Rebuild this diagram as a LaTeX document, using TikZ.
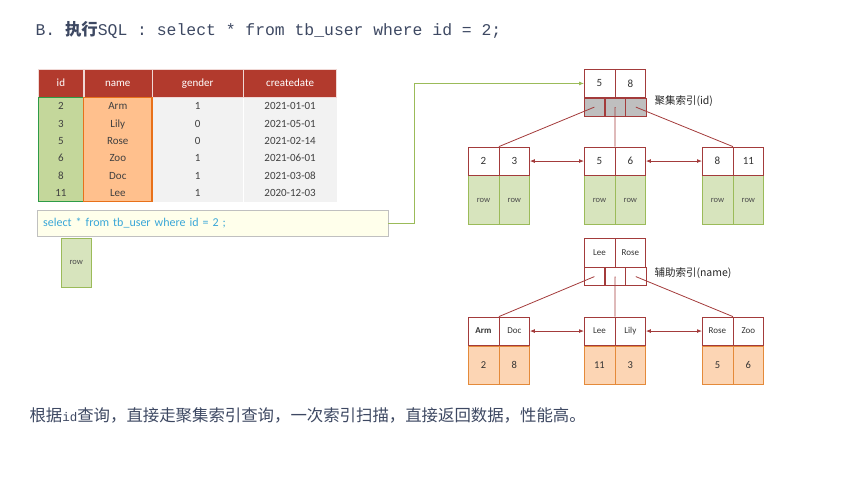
\documentclass[tikz,border=0pt]{standalone}
\usepackage{fontspec}
\setmainfont{Carlito}
\setmonofont{Liberation Mono}
\newfontfamily\cjk{Noto Sans CJK SC}
\usepackage{xcolor}
\usetikzlibrary{arrows.meta}
\usetikzlibrary{matrix}

\definecolor{titleblue}{HTML}{3D4862}
\definecolor{hdrred}{HTML}{B23A2D}
\definecolor{bodygray}{HTML}{F2F2F2}
\definecolor{cellgray}{HTML}{404040}
\definecolor{idfill}{HTML}{C4D79B}
\definecolor{idgreen}{HTML}{2E9B47}
\definecolor{namefill}{HTML}{FFC08D}
\definecolor{nameorange}{HTML}{E8711A}
\definecolor{sqlfill}{HTML}{FFFFEB}
\definecolor{sqlborder}{HTML}{C0C0C0}
\definecolor{sqltext}{HTML}{3AA7D8}
\definecolor{treered}{HTML}{A33B3B}
\definecolor{ptrgray}{HTML}{BFBFBF}
\definecolor{rowfill}{HTML}{D7E4BD}
\definecolor{rowgreen}{HTML}{9BBB59}
\definecolor{datafill}{HTML}{FCD5B4}
\definecolor{dataorange}{HTML}{E48A3A}

\begin{document}
\begin{tikzpicture}[x=1pt,y=-1pt,
		keycell/.style={draw=treered, fill=white, inner sep=0pt, minimum width=30.5pt,
			minimum height=28.5pt, text=black!80, font=\fontsize{11}{12}\selectfont},
		ptrcell/.style={draw=treered, inner sep=0pt, minimum width=20.33pt, minimum height=18pt},
		rowcell/.style={draw=rowgreen, fill=rowfill, inner sep=0pt, minimum width=30.5pt,
			minimum height=49pt, text=black!70, font=\fontsize{8.5}{10}\selectfont},
		datacell/.style={draw=dataorange, fill=datafill, inner sep=0pt, minimum width=30.5pt,
			minimum height=38pt, text=black!80, font=\fontsize{10.5}{12}\selectfont},
		treeline/.style={treered, line width=0.8pt},
		leafarrow/.style={treered, line width=0.9pt,
			{Latex[length=5pt,width=4pt]}-{Latex[length=5pt,width=4pt]}},
		idxlabel/.style={anchor=west, text=black!85, font=\fontsize{10.5}{12}\cjk}]
	\useasboundingbox (0,0) rectangle (843,478);
	
	% heading and summary
	\node[anchor=west, text=titleblue, font=\fontsize{16.4}{18}\ttfamily] (title) at (32,30)
	{B. {\cjk\bfseries\fontsize{16.4}{18}\selectfont 执行}SQL : select * from tb\_user where id = 2;};
	\node[anchor=west, text=titleblue, font=\fontsize{16.4}{19}\cjk] (summary) at (26,415)
	{根据{\ttfamily\fontsize{12.5}{14}\selectfont id}查询，直接走聚集索引查询，一次索引扫描，直接返回数据，性能高。};
	
	% table tb_user
	\matrix (tbl) [matrix of nodes, anchor=north west, inner sep=0pt,
	column sep=0pt, row sep=0pt,
	nodes={inner sep=0pt, minimum height=17.33pt, text height=8pt, text depth=1pt,
		font=\fontsize{11}{12}\selectfont, text=cellgray, fill=bodygray},
	column 1/.style={nodes={minimum width=45pt, fill=idfill}},
	column 2/.style={nodes={minimum width=68pt, fill=namefill}},
	column 3/.style={nodes={minimum width=91pt}},
	column 4/.style={nodes={minimum width=93pt}},
	row 1/.style={nodes={fill=hdrred, text=white, minimum height=28pt,
			draw=white!80!hdrred, line width=0.4pt}}
	] at (38,69)
	{
		id & name & gender & createdate \\
		2  & Arm  & 1 & 2021-01-01 \\
		3  & Lily & 0 & 2021-05-01 \\
		5  & Rose & 0 & 2021-02-14 \\
		6  & Zoo  & 1 & 2021-06-01 \\
		8  & Doc  & 1 & 2021-03-08 \\
		11 & Lee  & 1 & 2020-12-03 \\
	};
	\draw[idgreen, line width=1.3pt] (tbl-2-1.north west) rectangle (tbl-7-1.south east);
	\draw[nameorange, line width=1.3pt] (tbl-2-2.north west) rectangle (tbl-7-2.south east);
	
	% query box and its row
	\node[draw=sqlborder, fill=sqlfill, anchor=north west, text width=339pt, align=left,
	inner xsep=6pt, inner ysep=0pt, minimum height=26pt, text=sqltext,
	font=\fontsize{12}{14}\selectfont] (sqlbox) at (37,210)
	{select * from tb\_user where id = 2 ;};
	\node[rowcell, anchor=north west, minimum width=30pt] (hit) at (61,238) {row};
	
	% clustered index (id)
	\node[keycell, anchor=north west] (ck1) at (584,69) {5};
	\node[keycell, anchor=west] (ck2) at (ck1.east) {8};
	\node[ptrcell, fill=ptrgray, anchor=north west] (cp1) at (ck1.south west) {};
	\node[ptrcell, fill=ptrgray, anchor=west] (cp2) at (cp1.east) {};
	\node[ptrcell, fill=ptrgray, anchor=west] (cp3) at (cp2.east) {};
	\node[idxlabel] (clabel) at (651,101) {聚集索引(id)};
	\foreach \n/\x/\a/\b in {l/468/2/3, m/584/5/6, r/702/8/11}{
		\node[rowcell, anchor=north west] (cd\n1) at (\x,175.5) {row};
		\node[rowcell, anchor=west] (cd\n2) at (cd\n1.east) {row};
		\node[keycell, anchor=south] (c\n1) at (cd\n1.north) {\a};
		\node[keycell, anchor=south] (c\n2) at (cd\n2.north) {\b};
	}
	\draw[treeline] (cp1.center) -- (cl1.north east);
	\draw[treeline] (cp2.center) -- (cm1.north east);
	\draw[treeline] (cp3.center) -- (cr1.north east);
	\draw[leafarrow] (cl2.east) -- (cm1.west);
	\draw[leafarrow] (cm2.east) -- (cr1.west);
	
	% secondary index (name)
	\node[keycell, anchor=north west, font=\fontsize{9}{10}\selectfont] (sk1) at (584,238.5) {Lee};
	\node[keycell, anchor=west, font=\fontsize{9}{10}\selectfont] (sk2) at (sk1.east) {Rose};
	\node[ptrcell, anchor=north west] (sp1) at (sk1.south west) {};
	\node[ptrcell, anchor=west] (sp2) at (sp1.east) {};
	\node[ptrcell, anchor=west] (sp3) at (sp2.east) {};
	\node[idxlabel] (slabel) at (651,273) {辅助索引(name)};
	\foreach \n/\x/\a/\b/\c/\d in {l/468/{\textbf{Arm}}/Doc/2/8, m/584/Lee/Lily/11/3, r/702/Rose/Zoo/5/6}{
		\node[datacell, anchor=north west] (sd\n1) at (\x,345.5) {\c};
		\node[datacell, anchor=west] (sd\n2) at (sd\n1.east) {\d};
		\node[keycell, anchor=south, font=\fontsize{9}{10}\selectfont] (s\n1) at (sd\n1.north) {\a};
		\node[keycell, anchor=south, font=\fontsize{9}{10}\selectfont] (s\n2) at (sd\n2.north) {\b};
	}
	\draw[treeline] (sp1.center) -- (sl1.north east);
	\draw[treeline] (sp2.center) -- (sm1.north east);
	\draw[treeline] (sp3.center) -- (sr1.north east);
	\draw[leafarrow] (sl2.east) -- (sm1.west);
	\draw[leafarrow] (sm2.east) -- (sr1.west);
	
	% query goes to the clustered root
	\draw[rowgreen, line width=0.8pt, -{Latex[length=5pt,width=4pt]}] (sqlbox.east) -- ++(26,0) |- (ck1.west);
\end{tikzpicture}
\end{document}
